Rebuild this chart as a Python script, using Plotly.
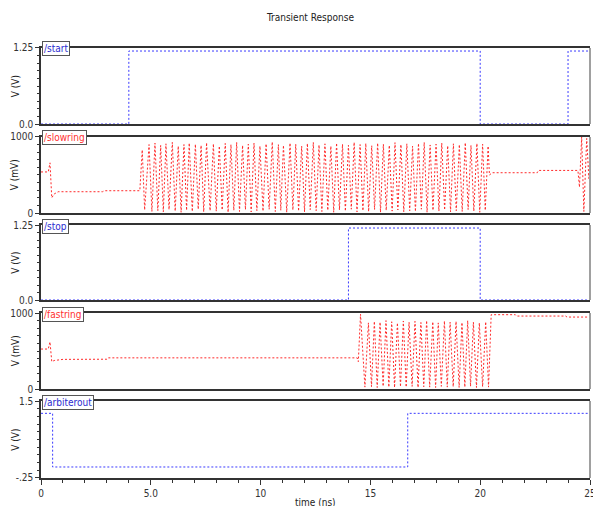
import plotly.graph_objects as go

# ---------------- data ----------------
start_t = [0, 4.0, 20.0, 24.0, 25.0]
start_v = [0, 1.2, 0, 1.2, 1.2]

stop_t = [0, 14.0, 20.0, 25.0]
stop_v = [0, 1.2, 0, 0]

arb_t = [0, 0.53, 16.7, 25.0]
arb_v = [1.22, 0.0, 1.22, 1.22]

slow_pre_t = [0, 0.33, 0.41, 0.49, 0.6, 0.78, 2.8, 2.9, 4.5]
slow_pre_v = [540, 540, 660, 200, 250, 280, 280, 293, 293]
slow_peak_t = [4.61, 4.92, 5.19, 5.45, 5.69, 5.98, 6.25, 6.51, 6.75, 7.03, 7.29, 7.54, 7.85, 8.12,
               8.39, 8.65, 8.91, 9.18, 9.44, 9.70, 9.97, 10.25, 10.53, 10.81, 11.04, 11.34, 11.60,
               11.87, 12.13, 12.40, 12.66, 12.93, 13.20, 13.46, 13.73, 14.00, 14.26, 14.53, 14.79,
               15.06, 15.33, 15.59, 15.86, 16.12, 16.39, 16.66, 16.92, 17.19, 17.45, 17.72, 17.99,
               18.25, 18.52, 18.78, 19.05, 19.32, 19.58, 19.85, 20.11, 20.36]
slow_peak_v = [830, 900, 920, 890, 910, 930, 880, 900, 920, 905, 890, 925, 910, 880, 915, 900, 930,
               890, 905, 920, 880, 910, 935, 900, 890, 920, 905, 880, 915, 930, 895, 910, 880, 920,
               905, 890, 930, 900, 915, 885, 920, 905, 890, 925, 900, 910, 880, 915, 930, 895, 905,
               920, 885, 910, 900, 925, 890, 915, 905, 880]
slow_trough_t = [4.72, 5.05, 5.32, 5.57, 5.83, 6.11, 6.38, 6.63, 6.89, 7.16, 7.41, 7.70, 7.98, 8.25,
                 8.52, 8.78, 9.04, 9.31, 9.57, 9.83, 10.11, 10.39, 10.67, 10.92, 11.19, 11.47, 11.73,
                 12.00, 12.26, 12.53, 12.79, 13.06, 13.33, 13.59, 13.86, 14.13, 14.39, 14.66, 14.92,
                 15.19, 15.46, 15.72, 15.99, 16.25, 16.52, 16.79, 17.05, 17.32, 17.58, 17.85, 18.12,
                 18.38, 18.65, 18.91, 19.18, 19.45, 19.71, 19.98, 20.23]
slow_trough_v = [40, 20, 30, 15, 45, 25, 10, 35, 20, 50, 15, 30, 25, 40, 10, 35, 20, 45, 15, 30, 25,
                 50, 20, 35, 10, 40, 25, 15, 45, 30, 20, 35, 10, 40, 25, 50, 15, 30, 20, 45, 10, 35,
                 25, 40, 15, 30, 20, 50, 10, 35, 25, 40, 15, 30, 20, 45, 25, 10, 35]
slow_post_t = [20.42, 20.55, 22.6, 22.65, 24.45, 24.52, 24.62, 24.72, 24.85, 24.95, 25.0]
slow_post_v = [500, 530, 530, 560, 560, 340, 1000, 20, 980, 450, 600]

fast_pre_t = [0, 0.33, 0.41, 0.49, 0.6, 1.0, 3.0, 3.05, 14.4, 14.45]
fast_pre_v = [526, 526, 620, 360, 375, 390, 392, 410, 410, 360]
fast_peak_t = [14.55, 14.91, 15.18, 15.44, 15.71, 15.97, 16.23, 16.50, 16.76, 17.03, 17.30, 17.56,
               17.84, 18.09, 18.37, 18.63, 18.90, 19.17, 19.43, 19.69, 19.96, 20.25]
fast_peak_v = [985, 870, 890, 880, 900, 885, 870, 895, 880, 890, 875, 900, 885, 870, 895, 880, 890,
               875, 900, 880, 870, 885]
fast_trough_t = [14.75, 15.05, 15.31, 15.58, 15.84, 16.10, 16.37, 16.63, 16.90, 17.17, 17.43, 17.70,
                 17.97, 18.23, 18.50, 18.77, 19.04, 19.30, 19.56, 19.83, 20.11, 20.38]
fast_trough_v = [25, 30, 20, 35, 25, 20, 30, 25, 35, 20, 30, 25, 20, 35, 25, 30, 20, 25, 35, 20, 30, 25]
fast_post_t = [20.5, 21.6, 21.65, 23.9, 23.95, 25.0]
fast_post_v = [978, 978, 960, 960, 947, 947]

x_tickvals = [0, 5, 10, 15, 20, 25]
x_ticktext = ["0", "5.0", "10", "15", "20", "25"]


def interleave(pt, pv, tt, tv):
    t, v = [], []
    for i in range(len(pt)):
        t.append(pt[i]); v.append(pv[i])
        if i < len(tt):
            t.append(tt[i]); v.append(tv[i])
    return t, v


sp_t, sp_v = interleave(slow_peak_t, slow_peak_v, slow_trough_t, slow_trough_v)
slow_t = slow_pre_t + sp_t + slow_post_t
slow_v = slow_pre_v + sp_v + slow_post_v

fp_t, fp_v = interleave(fast_peak_t, fast_peak_v, fast_trough_t, fast_trough_v)
fast_t = fast_pre_t + fp_t + fast_post_t
fast_v = fast_pre_v + fp_v + fast_post_v

BLUE = "#3a3aff"
RED = "#ff2a2a"
FONT = "DejaVu Sans Condensed, DejaVu Sans, sans-serif"

panels = [
    dict(name="/start", t=start_t, v=start_v, color=BLUE, shape="hv", rng=[0, 1.25],
         tv=[0, 1.25], tt=["0.0", "1.25"], minor=0.125, ytitle="V (V)", lab="#2b2bd0"),
    dict(name="/slowring", t=slow_t, v=slow_v, color=RED, shape="linear", rng=[0, 1000],
         tv=[0, 1000], tt=["0", "1000"], minor=100, ytitle="V (mV)", lab="#ff3030"),
    dict(name="/stop", t=stop_t, v=stop_v, color=BLUE, shape="hv", rng=[0, 1.25],
         tv=[0, 1.25], tt=["0.0", "1.25"], minor=0.125, ytitle="V (V)", lab="#2b2bd0"),
    dict(name="/fastring", t=fast_t, v=fast_v, color=RED, shape="linear", rng=[0, 1000],
         tv=[0, 1000], tt=["0", "1000"], minor=100, ytitle="V (mV)", lab="#ff3030"),
    dict(name="/arbiterout", t=arb_t, v=arb_v, color=BLUE, shape="hv", rng=[-0.25, 1.5],
         tv=[-0.25, 1.5], tt=["-.25", "1.5"], minor=0.175, ytitle="V (V)", lab="#2b2bd0"),
]

domains = [[0.8194, 0.9954], [0.6134, 0.7894], [0.4120, 0.5856], [0.2060, 0.3819], [0.0, 0.1782]]

fig = go.Figure()
layout = dict(
    width=593, height=506,
    margin=dict(l=41, r=3, t=46, b=28, autoexpand=False),
    paper_bgcolor="white", plot_bgcolor="white",
    showlegend=False,
    font=dict(family=FONT, size=10, color="#222"),
)
annotations = []
shapes = []

for i, p in enumerate(panels):
    n = i + 1
    xa = "x" if n == 1 else f"x{n}"
    ya = "y" if n == 1 else f"y{n}"
    fig.add_trace(go.Scatter(x=p["t"], y=p["v"], mode="lines", xaxis=xa, yaxis=ya,
                             line=dict(color=p["color"], width=1, dash="2px,2px", shape=p["shape"]),
                             hoverinfo="skip"))
    last = (n == 5)
    xkey = "xaxis" if n == 1 else f"xaxis{n}"
    ykey = "yaxis" if n == 1 else f"yaxis{n}"
    xd = dict(domain=[0, 1], anchor=ya, range=[0, 25], showgrid=False, zeroline=False,
              automargin=False, ticklabeloverflow="allow",
              showline=True, linecolor="#333", linewidth=1.5, mirror=True,
              tickvals=x_tickvals, ticktext=x_ticktext, showticklabels=last,
              ticks="outside" if last else "", ticklen=5, tickcolor="#333",
              tickfont=dict(size=10, color="#333"))
    if last:
        xd["minor"] = dict(dtick=1, tick0=0, ticks="outside", ticklen=3, tickcolor="#333")
    if n > 1:
        xd["matches"] = "x"
    layout[xkey] = xd
    layout[ykey] = dict(domain=domains[i], anchor=xa, range=p["rng"], showgrid=False,
                        zeroline=False, showline=True, linecolor="#333", linewidth=1.5,
                        automargin=False,
                        tickvals=p["tv"], ticktext=p["tt"], ticks="outside", ticklen=4,
                        tickcolor="#333", tickfont=dict(size=10, color="#333"),
                        minor=dict(dtick=p["minor"], tick0=p["rng"][0], ticks="outside",
                                   ticklen=2, tickcolor="#333"))
    # right border (gray)
    shapes.append(dict(type="line", xref="paper", yref="paper", x0=1, x1=1,
                       y0=domains[i][0], y1=domains[i][1], line=dict(color="#a0a0a0", width=2)))
    # label tab
    annotations.append(dict(text=p["name"], xref="paper", yref="paper", x=0, y=domains[i][1],
                            xanchor="left", yanchor="middle", yshift=-1, xshift=1,
                            showarrow=False, font=dict(size=10, color=p["lab"], family=FONT),
                            bgcolor="white", bordercolor="#555", borderwidth=1, borderpad=1))
    # y title
    annotations.append(dict(text=p["ytitle"], xref="paper", yref="paper", x=-0.047,
                            y=(domains[i][0] + domains[i][1]) / 2, xanchor="center",
                            yanchor="middle", textangle=-90, showarrow=False,
                            font=dict(size=10, color="#222", family=FONT)))

annotations.append(dict(text="Transient Response", xref="paper", yref="paper", x=0.49, y=1.065,
                        xanchor="center", yanchor="middle", showarrow=False,
                        font=dict(size=10, color="#222", family=FONT)))
annotations.append(dict(text="time (ns)", xref="paper", yref="paper", x=0.5, y=-0.04,
                        xanchor="center", yanchor="top", showarrow=False,
                        font=dict(size=10, color="#222", family=FONT)))

layout["annotations"] = annotations
layout["shapes"] = shapes
fig.update_layout(**layout)
fig.write_html("out.html", config={"displayModeBar": False},
               post_script="document.body.style.margin='0';document.body.style.overflow='hidden';")
